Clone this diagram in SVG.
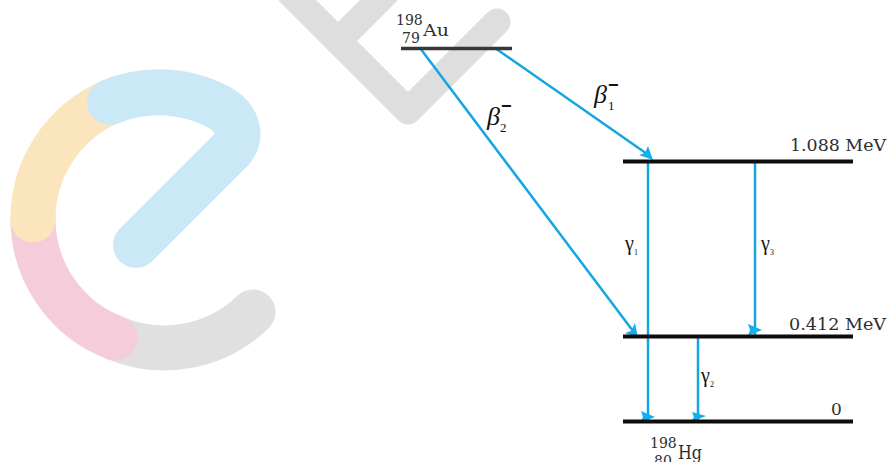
<svg xmlns="http://www.w3.org/2000/svg" width="887" height="462" viewBox="0 0 887 462">
<defs>
<style>
.wm{fill:none;stroke-linecap:round;stroke-linejoin:round}
.lvl{stroke:#0d0d0d;stroke-width:4;fill:none}
.ar{stroke:#14a6e2;stroke-width:2.500;fill:none}
.hd{fill:#12aeef}
text{font-family:"DejaVu Serif","Liberation Serif",serif;fill:#2e2e2e}
.b{font-family:"Liberation Serif",serif;font-style:italic;font-size:26px;fill:#111}
.bs{font-family:"Liberation Serif",serif;font-size:13px;fill:#111}
.bm{font-family:"Liberation Sans",sans-serif;font-size:18px;font-weight:bold;fill:#111}
.g{font-family:"Liberation Serif",serif;font-size:20px;fill:#111}
.gs{font-family:"Liberation Serif",serif;font-size:8px;fill:#111}
.m{font-size:17px}
.s{font-size:14px}
</style>
</defs>
<rect width="887" height="462" fill="#fff"/>
<g id="watermark">
<path class="wm" d="M290 -7L408 111L497 22" stroke="#dedede" stroke-width="27"/>
<path class="wm" d="M338 41L386 -7" stroke="#dedede" stroke-width="27"/>
<path class="wm" d="M115 338A127.500 127.500 0 0 0 253 312" stroke="#e0e0e0" stroke-width="45"/>
<path class="wm" d="M33 220A127.500 127.500 0 0 0 115 338" stroke="#f5ccd9" stroke-width="45"/>
<path class="wm" d="M110 102A127.500 127.500 0 0 0 33 220" stroke="#fae5bd" stroke-width="45"/>
<path class="wm" d="M110 102A127.500 127.500 0 0 1 222 109C236 118 243 134 232 149L136 245" stroke="#cbe8f6" stroke-width="46"/>
</g>
<g id="connectors">
<path class="ar" d="M495 48L650 156"/>
<path class="ar" d="M420 48L636 335"/>
<path class="ar" d="M648 161V421"/>
<path class="ar" d="M755 161V335"/>
<path class="ar" d="M698 336V421"/>
<polygon class="hd" points="653,160 639,155 645,153 648,146"/>
<polygon class="hd" points="638,338 625,333 631,331 635,323"/>
<polygon class="hd" points="748,324 762,330 748,336 750,330"/>
<polygon class="hd" points="641,411 655,417 640,423 643,417"/>
<polygon class="hd" points="692,412 706,416 691,422 694,417"/>
</g>
<g id="level-au">
<line x1="401" y1="48.500" x2="512" y2="48.500" stroke="#3a3636" stroke-width="3.500"/>
<text class="s" x="396" y="25">198</text>
<text class="s" x="402" y="43">79</text>
<text x="423" y="36" font-size="17" textLength="26" lengthAdjust="spacingAndGlyphs">Au</text>
</g>
<g id="level-1088">
<line class="lvl" x1="623" y1="161.500" x2="853" y2="161.500"/>
<text class="m" x="790" y="151" textLength="96" lengthAdjust="spacingAndGlyphs">1.088 MeV</text>
</g>
<g id="level-0412">
<line class="lvl" x1="623" y1="336.500" x2="853" y2="336.500"/>
<text class="m" x="789" y="330" textLength="97" lengthAdjust="spacingAndGlyphs">0.412 MeV</text>
</g>
<g id="level-0">
<line class="lvl" x1="623" y1="421.500" x2="853" y2="421.500"/>
<text class="m" x="831" y="415">0</text>
<text class="s" x="650" y="448">198</text>
<text class="s" x="654" y="466">80</text>
<text x="678" y="459" font-size="18" textLength="24" lengthAdjust="spacingAndGlyphs">Hg</text>
</g>
<g id="label-beta1">
<text class="b" x="594" y="103">β</text>
<text class="bs" x="608" y="110">1</text>
<text class="bm" x="608" y="91">−</text>
</g>
<g id="label-beta2">
<text class="b" x="487" y="125">β</text>
<text class="bs" x="500" y="132">2</text>
<text class="bm" x="501" y="112">−</text>
</g>
<g id="label-gamma1">
<text class="g" x="625" y="250">γ</text>
<text class="gs" x="634" y="255">1</text>
</g>
<g id="label-gamma3">
<text class="g" x="761" y="250">γ</text>
<text class="gs" x="770" y="255">3</text>
</g>
<g id="label-gamma2">
<text class="g" x="701" y="382">γ</text>
<text class="gs" x="710" y="387">2</text>
</g>
</svg>
